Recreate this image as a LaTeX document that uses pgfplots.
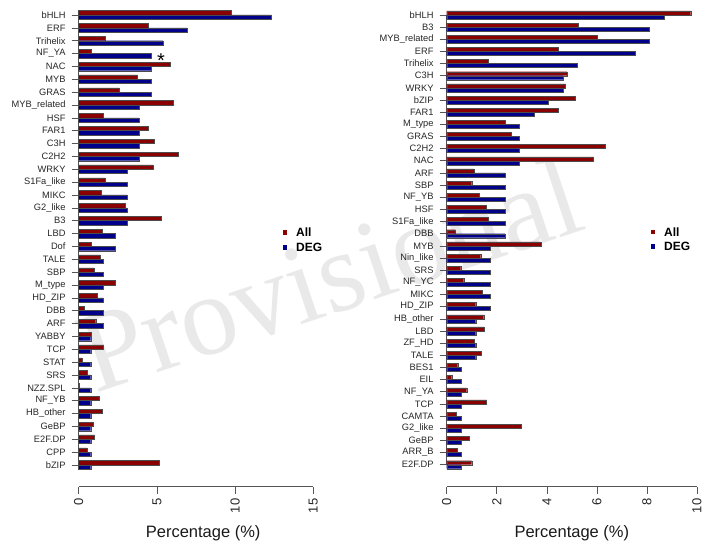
\documentclass[border=0pt]{standalone}
\usepackage{fontspec}
\setmainfont{Liberation Sans}
\newfontfamily\wmfont{Liberation Serif}
\usepackage{pgfplots}
\usepackage{pgfplotstable}
\pgfplotsset{compat=1.18}
\definecolor{allred}{RGB}{139,0,0}
\definecolor{degblue}{RGB}{0,0,139}
\definecolor{axgray}{RGB}{85,85,85}

\pgfplotstableread{
i all deg
0 9.75 12.31
1 4.44 6.92
2 1.67 5.38
3 0.80 4.62
4 5.87 4.62
5 3.76 4.62
6 2.58 4.62
7 6.02 3.85
8 1.57 3.85
9 4.44 3.85
10 4.80 3.85
11 6.34 3.85
12 4.75 3.08
13 1.67 3.08
14 1.41 3.08
15 2.97 3.08
16 5.25 3.08
17 1.49 2.31
18 0.83 2.31
19 1.37 1.54
20 1.00 1.54
21 2.33 1.54
22 1.16 1.54
23 0.35 1.54
24 1.09 1.54
25 0.83 0.77
26 1.59 0.77
27 0.21 0.77
28 0.56 0.77
29 0.04 0.77
30 1.29 0.77
31 1.48 0.77
32 0.90 0.77
33 1.00 0.77
34 0.53 0.77
35 5.12 0.77
}\lefttab

\pgfplotstableread{
i all deg
0 9.75 8.68
1 5.25 8.10
2 6.02 8.10
3 4.44 7.52
4 1.67 5.22
5 4.80 4.64
6 4.75 4.64
7 5.12 4.06
8 4.44 3.48
9 2.33 2.90
10 2.58 2.90
11 6.34 2.90
12 5.87 2.90
13 1.09 2.32
14 1.00 2.32
15 1.29 2.32
16 1.57 2.32
17 1.67 2.32
18 0.35 2.32
19 3.76 1.74
20 1.36 1.74
21 0.56 1.74
22 0.68 1.74
23 1.41 1.74
24 1.16 1.74
25 1.48 1.16
26 1.49 1.16
27 1.09 1.16
28 1.37 1.16
29 0.44 0.58
30 0.20 0.58
31 0.80 0.58
32 1.59 0.58
33 0.37 0.58
34 2.97 0.58
35 0.90 0.58
36 0.43 0.58
37 1.00 0.58
}\righttab

\pgfplotsset{
  panel/.style={
    scale only axis, enlargelimits=false, y dir=reverse,
    axis x line*=bottom, axis y line*=left,
    axis line style={-, axgray, line width=0.6pt},
    y axis line style={draw=none},
    tick align=outside, major tick length=7pt,
    tick style={axgray, line width=0.6pt},
    xticklabel style={rotate=90, anchor=east, inner sep=0pt, font=\fontsize{13}{13}\selectfont, text=black!85},
    yticklabel style={inner sep=0pt, font=\fontsize{9.3}{10}\selectfont, text=black!85},
    xticklabel shift=4.7pt, yticklabel shift=6pt,
    /pgf/number format/assume math mode=true,
    xbar,
    xlabel={Percentage (\%)},
    xlabel style={font=\fontsize{16.5}{18}\selectfont, anchor=center, inner sep=0pt, text=black!90},
    legend cell align=left,
    legend style={draw=none, fill=none, inner sep=0pt, outer sep=0pt, anchor=north west,
      font=\bfseries\fontsize{12}{12}\selectfont, row sep=6pt,
      nodes={inner sep=0pt, text height=8.6pt, text depth=0pt},
      /tikz/every odd column/.append style={column sep=8.7pt}},
    clip=false,
  },
  allbar/.style={fill=allred, draw=black!70, line width=0.4pt,
    legend image code/.code={\fill[##1, draw=none] (0pt,-2.35pt) rectangle (4.7pt,2.35pt);}},
  degbar/.style={fill=degblue, draw=black!70, line width=0.4pt,
    legend image code/.code={\fill[##1, draw=none] (0pt,-2.35pt) rectangle (4.7pt,2.35pt);}},
}

\begin{document}
\begin{tikzpicture}
\useasboundingbox (0,0) rectangle (705pt,549pt);
\node[rotate=18.5, anchor=base, text=gray!17, font=\wmfont\fontsize{114}{114}\selectfont, inner sep=0pt] at (342pt,238pt) {Provisional};

\begin{axis}[panel,
  at={(78.7pt,62.3pt)}, anchor=south west,
  width=234.6pt, height=482.0pt,
  xmin=0, xmax=15, ymin=-0.8, ymax=36.69,
  xtick={0,5,10,15},
  ytick={0,...,35},
  yticklabels={bHLH, ERF, Trihelix, NF\_YA, NAC, MYB, GRAS, MYB\_related, HSF, FAR1, C3H, C2H2, WRKY, S1Fa\_like, MIKC, G2\_like, B3, LBD, Dof, TALE, SBP, M\_type, HD\_ZIP, DBB, ARF, YABBY, TCP, STAT, SRS, NZZ.SPL, NF\_YB, HB\_other, GeBP, E2F.DP, CPP, bZIP},
  xlabel style={at={(axis description cs:0.5305,0)}, yshift=-46.6pt},
  legend style={at={(axis description cs:0.8696,0.5359)}},
]
\draw[axgray, line width=0.6pt] (axis cs:0,0) -- (axis cs:0,35);
\addplot[allbar, bar width=4.3pt, bar shift=2.15pt] table[x=all, y=i] {\lefttab};
\addplot[degbar, bar width=4.3pt, bar shift=-2.15pt] table[x=deg, y=i] {\lefttab};
\legend{All, DEG}
\node[font=\fontsize{20}{20}\selectfont, anchor=base, inner sep=0pt] at (axis cs:5.26,4.08) {*};
\end{axis}

\begin{axis}[panel,
  at={(446.7pt,62.3pt)}, anchor=south west,
  width=250.3pt, height=481.5pt,
  xmin=0, xmax=10, ymin=-0.8, ymax=38.81,
  xtick={0,2,4,6,8,10},
  ytick={0,...,37},
  yticklabels={bHLH, B3, MYB\_related, ERF, Trihelix, C3H, WRKY, bZIP, FAR1, M\_type, GRAS, C2H2, NAC, ARF, SBP, NF\_YB, HSF, S1Fa\_like, DBB, MYB, Nin\_like, SRS, NF\_YC, MIKC, HD\_ZIP, HB\_other, LBD, ZF\_HD, TALE, BES1, EIL, NF\_YA, TCP, CAMTA, G2\_like, GeBP, ARR\_B, E2F.DP},
  xlabel style={at={(axis description cs:0.5,0)}, yshift=-46.6pt},
  legend style={at={(axis description cs:0.815,0.5379)}},
]
\draw[axgray, line width=0.6pt] (axis cs:0,0) -- (axis cs:0,37);
\addplot[allbar, bar width=4.0pt, bar shift=2.0pt] table[x=all, y=i] {\righttab};
\addplot[degbar, bar width=4.0pt, bar shift=-2.0pt] table[x=deg, y=i] {\righttab};
\legend{All, DEG}
\end{axis}
\end{tikzpicture}
\end{document}
